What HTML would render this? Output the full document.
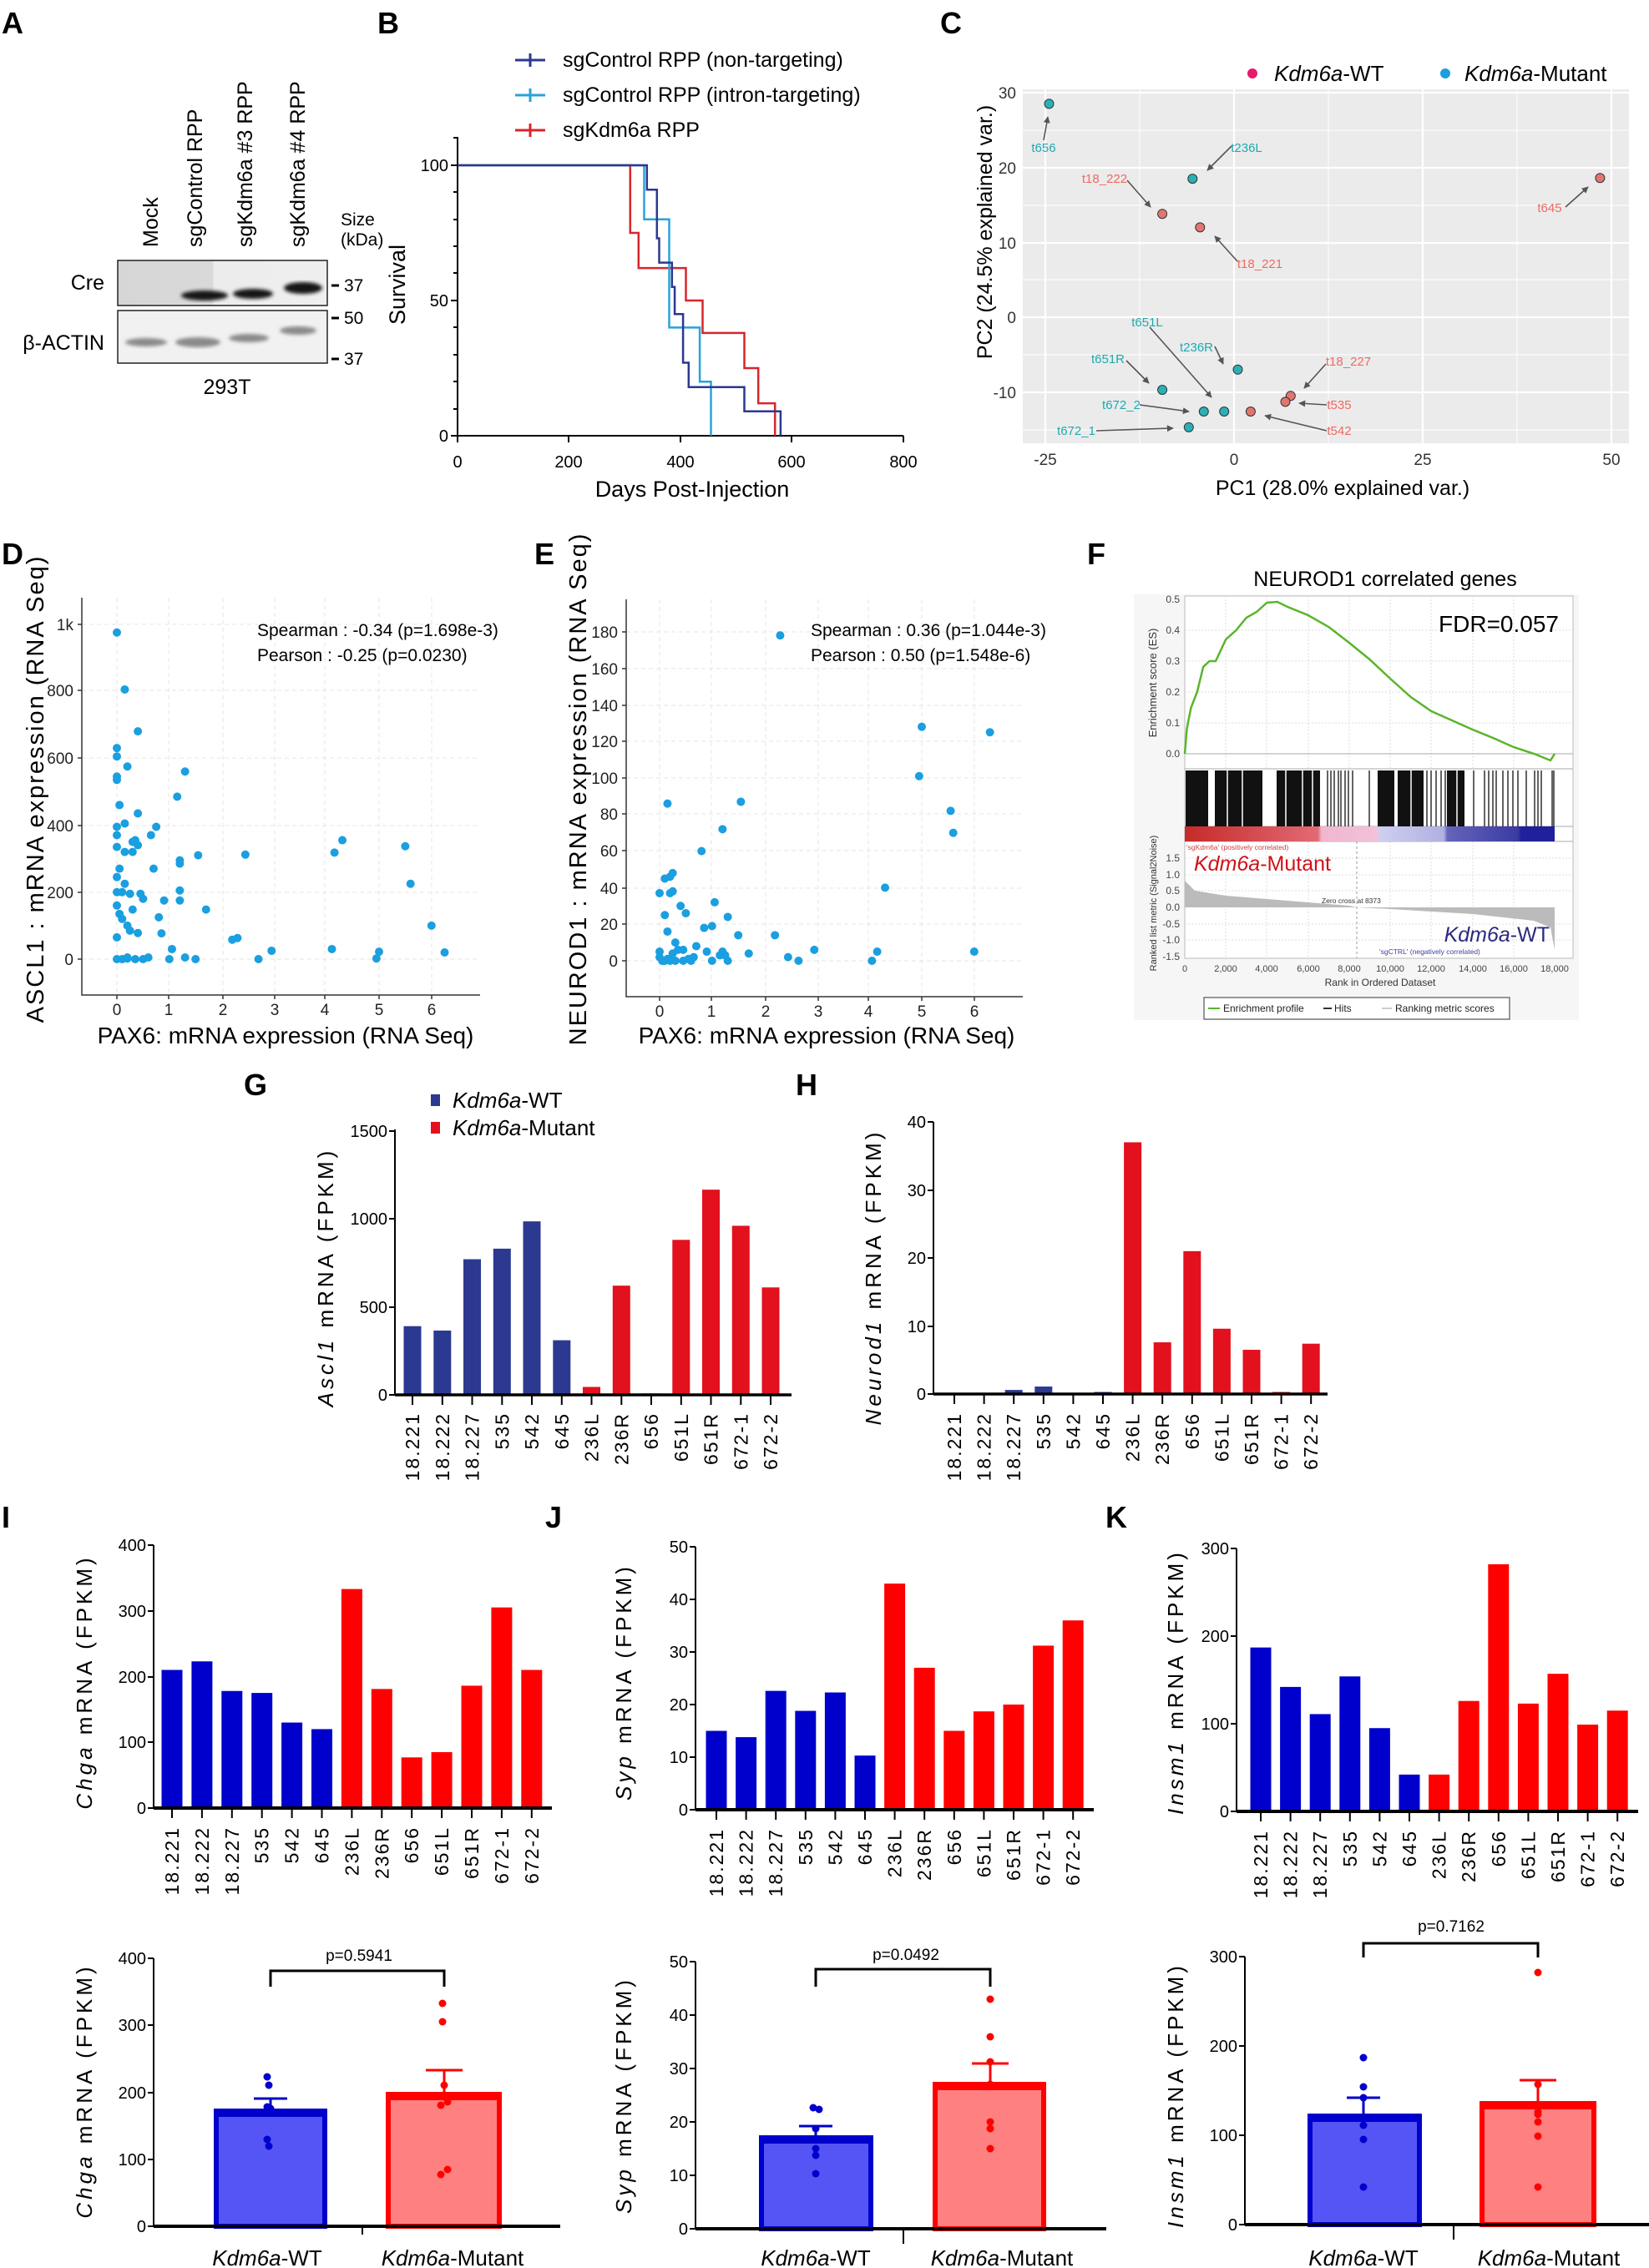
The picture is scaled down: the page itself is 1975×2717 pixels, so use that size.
<!DOCTYPE html>
<html><head><meta charset="utf-8"><style>
html,body{margin:0;padding:0;background:#fff}
svg{display:block}
.n{font-family:"Liberation Sans Narrow","Liberation Sans",sans-serif}
.s{font-family:"Liberation Sans",sans-serif}
.b{font-family:"Liberation Sans",sans-serif;font-weight:bold}
</style></head><body>
<svg width="1975" height="2717" viewBox="0 0 1975 2717" xmlns="http://www.w3.org/2000/svg">
<!-- Panel letters -->
<g class="b" font-size="36" fill="#000">
<text x="2" y="40">A</text><text x="452" y="40">B</text><text x="1126" y="40">C</text>
<text x="2" y="676">D</text><text x="640" y="676">E</text><text x="1302" y="676">F</text>
<text x="292" y="1312">G</text><text x="953" y="1312">H</text>
<text x="2" y="1830">I</text><text x="653" y="1830">J</text><text x="1324" y="1830">K</text>
</g>

<!-- PANEL A -->
<g class="s" font-size="25">
<text transform="translate(189,296) rotate(-90)">Mock</text>
<text transform="translate(242,296) rotate(-90)">sgControl RPP</text>
<text transform="translate(302,296) rotate(-90)">sgKdm6a #3 RPP</text>
<text transform="translate(365,296) rotate(-90)">sgKdm6a #4 RPP</text>
</g>
<g class="n" font-size="21"><text x="408" y="270">Size</text><text x="408" y="294">(kDa)</text></g>
<defs>
<linearGradient id="creg" x1="0" x2="1"><stop offset="0" stop-color="#d6d6d6"/><stop offset="0.45" stop-color="#d9d9d9"/><stop offset="0.46" stop-color="#ececec"/><stop offset="1" stop-color="#efefef"/></linearGradient>
<filter id="bl"><feGaussianBlur stdDeviation="2"/></filter>
</defs>
<rect x="141" y="312" width="251" height="54" fill="url(#creg)" stroke="#222" stroke-width="1.5"/>
<g filter="url(#bl)" fill="#151515">
<ellipse cx="245" cy="354" rx="28" ry="6"/><ellipse cx="303" cy="352" rx="24" ry="6"/><ellipse cx="363" cy="345" rx="23" ry="7"/>
</g>
<rect x="141" y="372" width="251" height="63" fill="#f1f1f1" stroke="#222" stroke-width="1.5"/>
<g filter="url(#bl)" fill="#8a8a8a">
<ellipse cx="175" cy="410" rx="25" ry="5"/><ellipse cx="237" cy="410" rx="27" ry="6"/><ellipse cx="298" cy="405" rx="24" ry="5"/><ellipse cx="357" cy="396" rx="22" ry="5"/>
</g>
<g stroke="#000" stroke-width="3"><line x1="397" y1="342" x2="406" y2="342"/><line x1="397" y1="381" x2="406" y2="381"/><line x1="397" y1="430" x2="406" y2="430"/></g>
<g class="n" font-size="21"><text x="412" y="349">37</text><text x="412" y="388">50</text><text x="412" y="437">37</text></g>
<g class="n" font-size="25" text-anchor="end"><text x="125" y="347">Cre</text><text x="125" y="419">β-ACTIN</text></g>
<text class="n" x="272" y="472" font-size="25" text-anchor="middle">293T</text>

<!-- PANEL B -->
<g stroke-width="3">
<line x1="617" y1="72" x2="653" y2="72" stroke="#2b3990"/><line x1="635" y1="64" x2="635" y2="80" stroke="#2b3990"/>
<line x1="617" y1="114" x2="653" y2="114" stroke="#29a3d8"/><line x1="635" y1="106" x2="635" y2="122" stroke="#29a3d8"/>
<line x1="617" y1="156" x2="653" y2="156" stroke="#d7262b"/><line x1="635" y1="148" x2="635" y2="164" stroke="#d7262b"/>
</g>
<g class="n" font-size="25"><text x="674" y="80">sgControl RPP (non-targeting)</text><text x="674" y="122">sgControl RPP (intron-targeting)</text><text x="674" y="164">sgKdm6a RPP</text></g>
<g stroke="#000" stroke-width="2" fill="none">
<line x1="548" y1="164" x2="548" y2="523"/><line x1="547" y1="522" x2="1082" y2="522"/>
<path d="M540 198h8M540 360h8M540 522h8M543 165h5M543 230h5M543 263h5M543 295h5M543 327h5M543 392h5M543 425h5M543 457h5M543 490h5"/>
<path d="M548 522v8M681 522v8M815 522v8M948 522v8M1082 522v8"/>
</g>
<g class="n" font-size="20" text-anchor="end"><text x="537" y="205">100</text><text x="537" y="367">50</text><text x="537" y="529">0</text></g>
<g class="n" font-size="20" text-anchor="middle"><text x="548" y="560">0</text><text x="681" y="560">200</text><text x="815" y="560">400</text><text x="948" y="560">600</text><text x="1082" y="560">800</text></g>
<text class="n" x="829" y="595" font-size="27" text-anchor="middle">Days Post-Injection</text>
<text class="s" transform="translate(485,341) rotate(-90)" font-size="27" text-anchor="middle">Survival</text>
<g fill="none" stroke-width="2.5">
<polyline stroke="#d7262b" points="548,198 754.8,198 754.8,279 764.8,279 764.8,321.1 821.5,321.1 821.5,360 841.5,360 841.5,398.9 891.5,398.9 891.5,441 908.2,441 908.2,483.1 928.2,483.1 928.2,522"/>
<polyline stroke="#29a3d8" points="548,198 771.5,198 771.5,262.8 801.5,262.8 801.5,392.4 838.1,392.4 838.1,457.2 851.5,457.2 851.5,522"/>
<polyline stroke="#2b3990" points="548,198 774.8,198 774.8,227.2 786.8,227.2 786.8,285.5 789.5,285.5 789.5,314.6 804.8,314.6 804.8,343.8 808.1,343.8 808.1,376.2 818.1,376.2 818.1,434.5 824.8,434.5 824.8,463.7 891.5,463.7 891.5,492.8 934.9,492.8 934.9,522"/>
</g>

<!-- PANEL C -->
<circle cx="1500" cy="88" r="6" fill="#e8186a"/><circle cx="1731" cy="88" r="6" fill="#1a9fe0"/>
<g class="n" font-size="26"><text x="1526" y="97"><tspan font-style="italic">Kdm6a</tspan>-WT</text><text x="1754" y="97"><tspan font-style="italic">Kdm6a</tspan>-Mutant</text></g>
<rect x="1225" y="107" width="726" height="424" fill="#ebebeb"/>
<g stroke="#fff" stroke-width="1"><path d="M1225 156h726M1225 246h726M1225 335h726M1225 425h726M1225 515h726M1365 107v424M1591 107v424M1817 107v424"/></g>
<g stroke="#fff" stroke-width="2.2"><path d="M1225 111h726M1225 201h726M1225 291h726M1225 380h726M1225 470h726M1252 107v424M1478 107v424M1704 107v424M1930 107v424"/></g>
<g class="n" font-size="19" fill="#333" text-anchor="end"><text x="1217" y="118">30</text><text x="1217" y="208">20</text><text x="1217" y="298">10</text><text x="1217" y="387">0</text><text x="1217" y="477">-10</text></g>
<g class="n" font-size="19" fill="#333" text-anchor="middle"><text x="1252" y="557">-25</text><text x="1478" y="557">0</text><text x="1704" y="557">25</text><text x="1930" y="557">50</text></g>
<text class="s" x="1608" y="593" font-size="25" text-anchor="middle">PC1 (28.0% explained var.)</text>
<text class="s" transform="translate(1188,278) rotate(-90)" font-size="25" text-anchor="middle">PC2 (24.5% explained var.)</text>
<defs><marker id="ar" viewBox="0 0 10 10" refX="9" refY="5" markerWidth="5" markerHeight="5" orient="auto"><path d="M0 0L10 5L0 10z" fill="#555"/></marker></defs>
<g stroke="#555" stroke-width="1.6" marker-end="url(#ar)">
<line x1="1250" y1="168" x2="1255" y2="140"/><line x1="1475" y1="175" x2="1446" y2="204"/>
<line x1="1350" y1="216" x2="1378" y2="248"/><line x1="1482" y1="313" x2="1455" y2="283"/>
<line x1="1875" y1="248" x2="1902" y2="224"/><line x1="1377" y1="392" x2="1451" y2="476"/>
<line x1="1455" y1="415" x2="1465" y2="436"/><line x1="1349" y1="432" x2="1376" y2="459"/>
<line x1="1588" y1="436" x2="1562" y2="465"/><line x1="1589" y1="485" x2="1556" y2="483"/>
<line x1="1365" y1="485" x2="1424" y2="493"/><line x1="1313" y1="516" x2="1405" y2="513"/>
<line x1="1589" y1="516" x2="1515" y2="498"/>
</g>
<g stroke="#333" stroke-width="1">
<g fill="#2ab1b5"><circle cx="1256.5" cy="124.4" r="5.5"/><circle cx="1428.3" cy="214.1" r="5.5"/><circle cx="1482.5" cy="442.8" r="5.5"/><circle cx="1392.1" cy="467" r="5.5"/><circle cx="1466.2" cy="493" r="5.5"/><circle cx="1441.8" cy="493" r="5.5"/><circle cx="1423.8" cy="511.9" r="5.5"/></g>
<g fill="#e0766f"><circle cx="1392.1" cy="256.2" r="5.5"/><circle cx="1437.3" cy="272.4" r="5.5"/><circle cx="1916.4" cy="213.2" r="5.5"/><circle cx="1545.8" cy="474.2" r="5.5"/><circle cx="1539.5" cy="481.4" r="5.5"/><circle cx="1497.9" cy="493" r="5.5"/></g>
</g>
<g class="n" font-size="15" text-anchor="middle">
<g fill="#20aab0"><text x="1250" y="182">t656</text><text x="1493" y="182">t236L</text><text x="1374" y="391">t651L</text><text x="1433" y="421">t236R</text><text x="1327" y="435">t651R</text><text x="1343" y="490">t672_2</text><text x="1289" y="521">t672_1</text></g>
<g fill="#ee6a62"><text x="1323" y="219">t18_222</text><text x="1509" y="321">t18_221</text><text x="1856" y="254">t645</text><text x="1615" y="438">t18_227</text><text x="1604" y="490">t535</text><text x="1604" y="521">t542</text></g>
</g>

<!-- PANEL D -->
<g stroke="#e4e4e4" stroke-width="1" stroke-dasharray="5,4" fill="none">
<path d="M98 748h477M98 827h477M98 908h477M98 989h477M98 1069h477M98 1149h477M140 716v476M202 716v476M267 716v476M329 716v476M389 716v476M454 716v476M517 716v476"/>
</g>
<g stroke="#333" stroke-width="1.5" fill="none"><path d="M98 716V1192H575"/><path d="M93 748h5M93 827h5M93 908h5M93 989h5M93 1069h5M93 1149h5M140 1192v5M202 1192v5M267 1192v5M329 1192v5M389 1192v5M454 1192v5M517 1192v5"/></g>
<g class="n" font-size="19" fill="#222" text-anchor="end"><text x="88" y="755">1k</text><text x="88" y="834">800</text><text x="88" y="915">600</text><text x="88" y="996">400</text><text x="88" y="1076">200</text><text x="88" y="1156">0</text></g>
<g class="n" font-size="19" fill="#222" text-anchor="middle"><text x="140" y="1216">0</text><text x="202" y="1216">1</text><text x="267" y="1216">2</text><text x="329" y="1216">3</text><text x="389" y="1216">4</text><text x="454" y="1216">5</text><text x="517" y="1216">6</text></g>
<text class="n" x="342" y="1250" font-size="28" text-anchor="middle">PAX6: mRNA expression (RNA Seq)</text>
<text class="s" transform="translate(52,945) rotate(-90)" font-size="29" letter-spacing="2" text-anchor="middle">ASCL1 : mRNA expression (RNA Seq)</text>
<g class="n" font-size="21"><text x="308" y="762">Spearman : -0.34 (p=1.698e-3)</text><text x="308" y="792">Pearson : -0.25 (p=0.0230)</text></g>
<path transform="translate(140,1149) scale(62.8,-0.4013)" vector-effect="non-scaling-stroke" stroke="#1a9fe0" stroke-width="10" stroke-linecap="round" fill="none"
d="M0 975h0M0.15 805h0M0.4 680h0M0 630h0M0 605h0M0.2 575h0M0 545h0M0 535h0M1.3 560h0M0.05 460h0M1.15 485h0M0.4 435h0M0.15 405h0M0 395h0M0.75 395h0M0 370h0M0.65 370h0M0.3 350h0M0.35 355h0M0.4 340h0M0 335h0M0.15 320h0M0.3 320h0M4.3 355h0M4.15 318h0M5.5 337h0M2.45 312h0M1.55 310h0M1.2 295h0M1.2 285h0M0.7 270h0M0.05 270h0M0 245h0M0.15 225h0M0 200h0M0.1 200h0M0.25 195h0M0.45 195h0M1.2 205h0M0.5 180h0M0.9 175h0M1.2 175h0M0 160h0M0.3 148h0M1.7 148h0M0.05 135h0M0.1 120h0M0.2 100h0M0.8 125h0M0.25 85h0M0.4 78h0M0.85 77h0M5.6 225h0M6 100h0M0 65h0M2.2 58h0M2.3 63h0M1.05 30h0M2.95 25h0M4.1 30h0M5 22h0M6.25 20h0M1.3 5h0M0 0h0M0.1 0h0M0.2 5h0M0.35 0h0M0.5 0h0M0.6 5h0M1 0h0M1.5 0h0M2.7 0h0M4.95 2h0M0.2 2h0"/>

<!-- PANEL E -->
<g stroke="#e4e4e4" stroke-width="1" stroke-dasharray="5,4" fill="none">
<path d="M750 757h475M750 801h475M750 845h475M750 888h475M750 932h475M750 975h475M750 1019h475M750 1064h475M750 1107h475M750 1151h475M790 718v476M852 718v476M917 718v476M980 718v476M1040 718v476M1104 718v476M1167 718v476"/>
</g>
<g stroke="#333" stroke-width="1.5" fill="none"><path d="M750 718V1194H1225"/><path d="M745 757h5M745 801h5M745 845h5M745 888h5M745 932h5M745 975h5M745 1019h5M745 1064h5M745 1107h5M745 1151h5M790 1194v5M852 1194v5M917 1194v5M980 1194v5M1040 1194v5M1104 1194v5M1167 1194v5"/></g>
<g class="n" font-size="19" fill="#222" text-anchor="end"><text x="740" y="764">180</text><text x="740" y="808">160</text><text x="740" y="852">140</text><text x="740" y="895">120</text><text x="740" y="939">100</text><text x="740" y="982">80</text><text x="740" y="1026">60</text><text x="740" y="1071">40</text><text x="740" y="1114">20</text><text x="740" y="1158">0</text></g>
<g class="n" font-size="19" fill="#222" text-anchor="middle"><text x="790" y="1218">0</text><text x="852" y="1218">1</text><text x="917" y="1218">2</text><text x="980" y="1218">3</text><text x="1040" y="1218">4</text><text x="1104" y="1218">5</text><text x="1167" y="1218">6</text></g>
<text class="n" x="990" y="1250" font-size="28" text-anchor="middle">PAX6: mRNA expression (RNA Seq)</text>
<text class="s" transform="translate(702,945) rotate(-90)" font-size="29" letter-spacing="2" text-anchor="middle">NEUROD1 : mRNA expression (RNA Seq)</text>
<g class="n" font-size="21"><text x="971" y="762">Spearman : 0.36 (p=1.044e-3)</text><text x="971" y="792">Pearson : 0.50 (p=1.548e-6)</text></g>
<path transform="translate(790,1151) scale(62.8,-2.19)" vector-effect="non-scaling-stroke" stroke="#1a9fe0" stroke-width="10" stroke-linecap="round" fill="none"
d="M2.3 178h0M5 128h0M6.3 125h0M4.95 101h0M5.55 82h0M5.6 70h0M0.15 86h0M1.55 87h0M1.2 72h0M0.8 60h0M0.25 48h0M0.1 45h0M0.2 46h0M0 37h0M0.2 37h0M0.25 38h0M4.3 40h0M1.05 32h0M0.4 30h0M0.5 26h0M0.1 25h0M1.3 24h0M0.15 16h0M1 19h0M0.85 18h0M1.5 14h0M2.2 14h0M0.3 10h0M0.7 8h0M0 5h0M0.35 6h0M0.45 6h0M0.25 4h0M0.9 5h0M1.2 5h0M1.25 3h0M0 2h0M0.1 0h0M0.2 0h0M0.3 0h0M0.45 0h0M0.55 1h0M0.6 0h0M0.65 2h0M1 0h0M1.3 0h0M1.7 4h0M2.45 2h0M2.65 0h0M2.95 6h0M4.05 0h0M4.15 5h0M6 5h0M0.05 0h0M0.15 1h0M1.15 3h0"/>

<!-- PANEL F -->
<text class="s" x="1659" y="702" font-size="25" text-anchor="middle">NEUROD1 correlated genes</text>
<rect x="1358" y="712" width="533" height="510" fill="#f6f6f6"/>
<rect x="1419" y="714" width="465" height="434" fill="#fff" stroke="#bbb" stroke-width="1"/>
<g stroke="#ddd" stroke-width="1" stroke-dasharray="2,2" fill="none"><path d="M1419 755h465M1419 792h465M1419 829h465M1419 866h465M1468 714v207M1517 714v207M1567 714v207M1616 714v207M1665 714v207M1714 714v207M1764 714v207M1813 714v207"/>
<path d="M1419 1028h465M1419 1048h465M1419 1067h465M1419 1107h465M1419 1126h465M1468 1008v140M1517 1008v140M1567 1008v140M1665 1008v140M1714 1008v140M1764 1008v140M1813 1008v140"/></g>
<path d="M1419 903h465M1419 921h465M1419 990h465M1419 1008h465" stroke="#aaa" stroke-width="1" fill="none"/>
<polyline fill="none" stroke="#5ab52a" stroke-width="2.5" points="1419,903 1421.5,873 1426.4,848 1433.8,829 1441.1,799 1448.5,792 1456,792 1468.2,766 1480.5,755 1492.8,740 1505.1,733 1517.4,722 1529.9,721 1542.1,727 1566.7,737 1591.3,751 1615.9,770 1640.5,790 1665.1,813 1689.7,835 1714.3,852 1739,863 1763.6,874 1788.2,884 1812.8,895 1837.4,903 1857,911 1862,903"/>
<g fill="#111"><rect x="1420" y="923" width="27" height="67"/><rect x="1455" y="923" width="57" height="67"/><rect x="1529" y="923" width="52" height="67"/><rect x="1650" y="923" width="20" height="67"/><rect x="1674" y="923" width="31" height="67"/><rect x="1733" y="923" width="21" height="67"/></g>
<path stroke="#fff" stroke-width="1.5" d="M1470 923v67M1488 923v67M1540 923v67M1560 923v67M1572 923v67M1690 923v67M1745 923v67"/>
<path stroke="#111" stroke-width="1.3" d="M1590 923v67M1594 923v67M1598 923v67M1603 923v67M1606 923v67M1611 923v67M1615 923v67M1620 923v67M1640 923v67M1709 923v67M1714 923v67M1720 923v67M1726 923v67M1731 923v67M1765 923v67M1778 923v67M1783 923v67M1788 923v67M1792 923v67M1800 923v67M1806 923v67M1812 923v67M1818 923v67M1828 923v67M1838 923v67M1842 923v67M1846 923v67M1859 923v67M1861 923v67"/>
<defs><linearGradient id="cb" x1="0" x2="1"><stop offset="0" stop-color="#c62a2a"/><stop offset="0.36" stop-color="#e26a74"/><stop offset="0.37" stop-color="#f0b6d0"/><stop offset="0.52" stop-color="#f1c2da"/><stop offset="0.525" stop-color="#cfcff0"/><stop offset="0.7" stop-color="#b0b0e2"/><stop offset="0.71" stop-color="#6464bc"/><stop offset="0.9" stop-color="#3b3ba2"/><stop offset="0.91" stop-color="#20209a"/><stop offset="1" stop-color="#20209a"/></linearGradient></defs>
<rect x="1419" y="990" width="443" height="18" fill="url(#cb)"/>
<path fill="#bbb" d="M1419 1087L1419 1055L1431 1067L1468 1073L1542 1079L1616 1085L1625 1087L1665 1089L1764 1095L1837 1103L1857 1111L1862 1138L1862 1087Z"/>
<line x1="1625" y1="1008" x2="1625" y2="1148" stroke="#999" stroke-dasharray="3,3"/>
<g class="s" font-size="12" fill="#444" text-anchor="end"><text x="1413" y="722">0.5</text><text x="1413" y="759">0.4</text><text x="1413" y="796">0.3</text><text x="1413" y="833">0.2</text><text x="1413" y="870">0.1</text><text x="1413" y="907">0.0</text>
<text x="1413" y="1032">1.5</text><text x="1413" y="1052">1.0</text><text x="1413" y="1071">0.5</text><text x="1413" y="1091">0.0</text><text x="1413" y="1111">-0.5</text><text x="1413" y="1130">-1.0</text><text x="1413" y="1150">-1.5</text></g>
<g class="s" font-size="11" fill="#444" text-anchor="middle"><text x="1419" y="1164">0</text><text x="1468" y="1164">2,000</text><text x="1517" y="1164">4,000</text><text x="1567" y="1164">6,000</text><text x="1616" y="1164">8,000</text><text x="1665" y="1164">10,000</text><text x="1714" y="1164">12,000</text><text x="1764" y="1164">14,000</text><text x="1813" y="1164">16,000</text><text x="1862" y="1164">18,000</text></g>
<text class="s" x="1653" y="1181" font-size="12" fill="#333" text-anchor="middle">Rank in Ordered Dataset</text>
<text class="s" transform="translate(1385,818) rotate(-90)" font-size="13" fill="#333" text-anchor="middle">Enrichment score (ES)</text>
<text class="s" transform="translate(1385,1082) rotate(-90)" font-size="11" fill="#333" text-anchor="middle">Ranked list metric (Signal2Noise)</text>
<text class="s" x="1867" y="757" font-size="28" text-anchor="end">FDR=0.057</text>
<text class="s" x="1421" y="1018" font-size="8.5" fill="#d04040">'sgKdm6a' (positively correlated)</text>
<text class="s" x="1583" y="1082" font-size="8.5" fill="#333">Zero cross at 8373</text>
<text class="s" x="1652" y="1143" font-size="8.5" fill="#4040a0">'sgCTRL' (negatively correlated)</text>
<text class="s" x="1430" y="1043" font-size="25" fill="#d0121a"><tspan font-style="italic">Kdm6a</tspan>-Mutant</text>
<text class="s" x="1856" y="1128" font-size="25" fill="#2a2a80" text-anchor="end"><tspan font-style="italic">Kdm6a</tspan>-WT</text>
<rect x="1442" y="1195" width="366" height="26" fill="#fff" stroke="#333"/>
<path d="M1447 1208h14" stroke-width="2" stroke="#5ab52a"/>
<path d="M1585 1208h10" stroke="#333" stroke-width="2"/><path d="M1655 1208h12" stroke="#ccc" stroke-width="2"/>
<g class="s" font-size="12" fill="#222"><text x="1465" y="1212">Enrichment profile</text><text x="1598" y="1212">Hits</text><text x="1671" y="1212">Ranking metric scores</text></g>

<!-- PANEL G -->
<rect x="516" y="1311" width="11" height="14" fill="#2b3990"/><rect x="516" y="1344" width="11" height="14" fill="#e3101e"/>
<g class="n" font-size="26"><text x="542" y="1327"><tspan font-style="italic">Kdm6a</tspan>-WT</text><text x="542" y="1360"><tspan font-style="italic">Kdm6a</tspan>-Mutant</text></g>
<g transform="translate(0,1671) scale(1,-0.211)">
<g fill="#2b3990"><rect x="483.5" y="0" width="21" height="390"/><rect x="519.3" y="0" width="21" height="365"/><rect x="555" y="0" width="21" height="770"/><rect x="590.8" y="0" width="21" height="830"/><rect x="626.5" y="0" width="21" height="985"/><rect x="662.3" y="0" width="21" height="310"/></g>
<g fill="#e3101e"><rect x="698" y="0" width="21" height="45"/><rect x="733.8" y="0" width="21" height="620"/><rect x="769.5" y="0" width="21" height="8"/><rect x="805.3" y="0" width="21" height="880"/><rect x="841" y="0" width="21" height="1165"/><rect x="876.8" y="0" width="21" height="960"/><rect x="912.5" y="0" width="21" height="610"/></g>
</g>
<g stroke="#000" stroke-width="2" fill="none"><path d="M473 1353V1671M466 1355h7M466 1460h7M466 1566h7M466 1671h7"/><path d="M473 1671H948" stroke-width="3.5"/>
<path d="M494 1672v11M529.8 1672v11M565.5 1672v11M601.3 1672v11M637 1672v11M672.8 1672v11M708.5 1672v11M744.3 1672v11M780 1672v11M815.8 1672v11M851.5 1672v11M887.3 1672v11M923 1672v11"/></g>
<g class="n" font-size="20" text-anchor="end"><text x="464" y="1362">1500</text><text x="464" y="1467">1000</text><text x="464" y="1573">500</text><text x="464" y="1678">0</text></g>
<text class="s" transform="translate(399,1530) rotate(-90)" font-size="26" letter-spacing="4" text-anchor="middle"><tspan font-style="italic">Ascl1</tspan> mRNA (FPKM)</text>
<g class="s" font-size="23" letter-spacing="2" text-anchor="end">
<text transform="translate(502,1692) rotate(-90)">18.221</text><text transform="translate(537.8,1692) rotate(-90)">18.222</text><text transform="translate(573.5,1692) rotate(-90)">18.227</text><text transform="translate(609.3,1692) rotate(-90)">535</text><text transform="translate(645,1692) rotate(-90)">542</text><text transform="translate(680.8,1692) rotate(-90)">645</text><text transform="translate(716.5,1692) rotate(-90)">236L</text><text transform="translate(752.3,1692) rotate(-90)">236R</text><text transform="translate(788,1692) rotate(-90)">656</text><text transform="translate(823.8,1692) rotate(-90)">651L</text><text transform="translate(859.5,1692) rotate(-90)">651R</text><text transform="translate(895.3,1692) rotate(-90)">672-1</text><text transform="translate(931,1692) rotate(-90)">672-2</text></g>

<!-- PANEL H -->
<g transform="translate(0,1670) scale(1,-8.15)">
<g fill="#2b3990"><rect x="1132.5" y="0" width="21" height="0.05"/><rect x="1168.1" y="0" width="21" height="0.1"/><rect x="1203.7" y="0" width="21" height="0.6"/><rect x="1239.3" y="0" width="21" height="1.1"/><rect x="1310.5" y="0" width="21" height="0.3"/></g>
<g fill="#e3101e"><rect x="1346.1" y="0" width="21" height="37"/><rect x="1381.7" y="0" width="21" height="7.6"/><rect x="1417.3" y="0" width="21" height="21"/><rect x="1452.9" y="0" width="21" height="9.6"/><rect x="1488.5" y="0" width="21" height="6.5"/><rect x="1524.1" y="0" width="21" height="0.3"/><rect x="1559.7" y="0" width="21" height="7.4"/></g>
</g>
<g stroke="#000" stroke-width="2" fill="none"><path d="M1118 1344V1670M1111 1344h7M1111 1426h7M1111 1507h7M1111 1589h7M1111 1670h7"/><path d="M1118 1670H1590" stroke-width="3.5"/>
<path d="M1143 1671v11M1178.6 1671v11M1214.2 1671v11M1249.8 1671v11M1285.4 1671v11M1321 1671v11M1356.6 1671v11M1392.2 1671v11M1427.8 1671v11M1463.4 1671v11M1499 1671v11M1534.6 1671v11M1570.2 1671v11"/></g>
<g class="n" font-size="20" text-anchor="end"><text x="1109" y="1351">40</text><text x="1109" y="1433">30</text><text x="1109" y="1514">20</text><text x="1109" y="1596">10</text><text x="1109" y="1677">0</text></g>
<text class="s" transform="translate(1055,1530) rotate(-90)" font-size="26" letter-spacing="4" text-anchor="middle"><tspan font-style="italic">Neurod1</tspan> mRNA (FPKM)</text>
<g class="s" font-size="23" letter-spacing="2" text-anchor="end">
<text transform="translate(1151,1692) rotate(-90)">18.221</text><text transform="translate(1186.6,1692) rotate(-90)">18.222</text><text transform="translate(1222.2,1692) rotate(-90)">18.227</text><text transform="translate(1257.8,1692) rotate(-90)">535</text><text transform="translate(1293.4,1692) rotate(-90)">542</text><text transform="translate(1329,1692) rotate(-90)">645</text><text transform="translate(1364.6,1692) rotate(-90)">236L</text><text transform="translate(1400.2,1692) rotate(-90)">236R</text><text transform="translate(1435.8,1692) rotate(-90)">656</text><text transform="translate(1471.4,1692) rotate(-90)">651L</text><text transform="translate(1507,1692) rotate(-90)">651R</text><text transform="translate(1542.6,1692) rotate(-90)">672-1</text><text transform="translate(1578.2,1692) rotate(-90)">672-2</text></g>

<!-- PANEL I top -->
<g transform="translate(0,2166) scale(1,-0.788)">
<g fill="#0000cc"><rect x="193.5" y="0" width="25" height="210"/><rect x="229.4" y="0" width="25" height="223"/><rect x="265.3" y="0" width="25" height="178"/><rect x="301.2" y="0" width="25" height="175"/><rect x="337.1" y="0" width="25" height="130"/><rect x="373" y="0" width="25" height="120"/></g>
<g fill="#ff0000"><rect x="408.9" y="0" width="25" height="333"/><rect x="444.8" y="0" width="25" height="181"/><rect x="480.7" y="0" width="25" height="77"/><rect x="516.6" y="0" width="25" height="85"/><rect x="552.5" y="0" width="25" height="186"/><rect x="588.4" y="0" width="25" height="305"/><rect x="624.3" y="0" width="25" height="210"/></g>
</g>
<g stroke="#000" stroke-width="2" fill="none"><path d="M184 1851V2166M177 1851h7M177 1930h7M177 2009h7M177 2087h7M177 2166h7"/><path d="M184 2166H661" stroke-width="4"/>
<path d="M206 2167v11M241.9 2167v11M277.8 2167v11M313.7 2167v11M349.6 2167v11M385.5 2167v11M421.4 2167v11M457.3 2167v11M493.2 2167v11M529.1 2167v11M565 2167v11M600.9 2167v11M636.8 2167v11"/></g>
<g class="n" font-size="20" text-anchor="end"><text x="175" y="1858">400</text><text x="175" y="1937">300</text><text x="175" y="2016">200</text><text x="175" y="2094">100</text><text x="175" y="2173">0</text></g>
<text class="s" transform="translate(110,2015) rotate(-90)" font-size="26" letter-spacing="4" text-anchor="middle"><tspan font-style="italic">Chga</tspan> mRNA (FPKM)</text>
<g class="s" font-size="23" letter-spacing="2" text-anchor="end">
<text transform="translate(214,2188) rotate(-90)">18.221</text><text transform="translate(249.9,2188) rotate(-90)">18.222</text><text transform="translate(285.8,2188) rotate(-90)">18.227</text><text transform="translate(321.7,2188) rotate(-90)">535</text><text transform="translate(357.6,2188) rotate(-90)">542</text><text transform="translate(393.5,2188) rotate(-90)">645</text><text transform="translate(429.4,2188) rotate(-90)">236L</text><text transform="translate(465.3,2188) rotate(-90)">236R</text><text transform="translate(501.2,2188) rotate(-90)">656</text><text transform="translate(537.1,2188) rotate(-90)">651L</text><text transform="translate(573,2188) rotate(-90)">651R</text><text transform="translate(608.9,2188) rotate(-90)">672-1</text><text transform="translate(644.8,2188) rotate(-90)">672-2</text></g>

<!-- PANEL J top -->
<g transform="translate(0,2168) scale(1,-6.3)">
<g fill="#0000cc"><rect x="845.5" y="0" width="25" height="15"/><rect x="881.1" y="0" width="25" height="13.8"/><rect x="916.7" y="0" width="25" height="22.6"/><rect x="952.3" y="0" width="25" height="18.8"/><rect x="987.9" y="0" width="25" height="22.3"/><rect x="1023.5" y="0" width="25" height="10.3"/></g>
<g fill="#ff0000"><rect x="1059.1" y="0" width="25" height="43"/><rect x="1094.7" y="0" width="25" height="27"/><rect x="1130.3" y="0" width="25" height="15"/><rect x="1165.9" y="0" width="25" height="18.7"/><rect x="1201.5" y="0" width="25" height="20"/><rect x="1237.1" y="0" width="25" height="31.2"/><rect x="1272.7" y="0" width="25" height="36"/></g>
</g>
<g stroke="#000" stroke-width="2" fill="none"><path d="M833 1853V2168M826 1853h7M826 1916h7M826 1979h7M826 2042h7M826 2105h7M826 2168h7"/><path d="M833 2168H1310" stroke-width="4"/>
<path d="M858 2169v11M893.6 2169v11M929.2 2169v11M964.8 2169v11M1000.4 2169v11M1036 2169v11M1071.6 2169v11M1107.2 2169v11M1142.8 2169v11M1178.4 2169v11M1214 2169v11M1249.6 2169v11M1285.2 2169v11"/></g>
<g class="n" font-size="20" text-anchor="end"><text x="824" y="1860">50</text><text x="824" y="1923">40</text><text x="824" y="1986">30</text><text x="824" y="2049">20</text><text x="824" y="2112">10</text><text x="824" y="2175">0</text></g>
<text class="s" transform="translate(756,2015) rotate(-90)" font-size="26" letter-spacing="4" text-anchor="middle"><tspan font-style="italic">Syp</tspan> mRNA (FPKM)</text>
<g class="s" font-size="23" letter-spacing="2" text-anchor="end">
<text transform="translate(866,2190) rotate(-90)">18.221</text><text transform="translate(901.6,2190) rotate(-90)">18.222</text><text transform="translate(937.2,2190) rotate(-90)">18.227</text><text transform="translate(972.8,2190) rotate(-90)">535</text><text transform="translate(1008.4,2190) rotate(-90)">542</text><text transform="translate(1044,2190) rotate(-90)">645</text><text transform="translate(1079.6,2190) rotate(-90)">236L</text><text transform="translate(1115.2,2190) rotate(-90)">236R</text><text transform="translate(1150.8,2190) rotate(-90)">656</text><text transform="translate(1186.4,2190) rotate(-90)">651L</text><text transform="translate(1222,2190) rotate(-90)">651R</text><text transform="translate(1257.6,2190) rotate(-90)">672-1</text><text transform="translate(1293.2,2190) rotate(-90)">672-2</text></g>

<!-- PANEL K top -->
<g transform="translate(0,2170) scale(1,-1.05)">
<g fill="#0000cc"><rect x="1497.5" y="0" width="25" height="187"/><rect x="1533.1" y="0" width="25" height="142"/><rect x="1568.7" y="0" width="25" height="111"/><rect x="1604.3" y="0" width="25" height="154"/><rect x="1639.9" y="0" width="25" height="95"/><rect x="1675.5" y="0" width="25" height="42"/></g>
<g fill="#ff0000"><rect x="1711.1" y="0" width="25" height="42"/><rect x="1746.7" y="0" width="25" height="126"/><rect x="1782.3" y="0" width="25" height="282"/><rect x="1817.9" y="0" width="25" height="123"/><rect x="1853.5" y="0" width="25" height="157"/><rect x="1889.1" y="0" width="25" height="99"/><rect x="1924.7" y="0" width="25" height="115"/></g>
</g>
<g stroke="#000" stroke-width="2" fill="none"><path d="M1481 1855V2170M1474 1855h7M1474 1960h7M1474 2065h7M1474 2170h7"/><path d="M1481 2170H1962" stroke-width="4"/>
<path d="M1510 2171v11M1545.6 2171v11M1581.2 2171v11M1616.8 2171v11M1652.4 2171v11M1688 2171v11M1723.6 2171v11M1759.2 2171v11M1794.8 2171v11M1830.4 2171v11M1866 2171v11M1901.6 2171v11M1937.2 2171v11"/></g>
<g class="n" font-size="20" text-anchor="end"><text x="1472" y="1862">300</text><text x="1472" y="1967">200</text><text x="1472" y="2072">100</text><text x="1472" y="2177">0</text></g>
<text class="s" transform="translate(1417,2015) rotate(-90)" font-size="26" letter-spacing="4" text-anchor="middle"><tspan font-style="italic">Insm1</tspan> mRNA (FPKM)</text>
<g class="s" font-size="23" letter-spacing="2" text-anchor="end">
<text transform="translate(1518,2192) rotate(-90)">18.221</text><text transform="translate(1553.6,2192) rotate(-90)">18.222</text><text transform="translate(1589.2,2192) rotate(-90)">18.227</text><text transform="translate(1624.8,2192) rotate(-90)">535</text><text transform="translate(1660.4,2192) rotate(-90)">542</text><text transform="translate(1696,2192) rotate(-90)">645</text><text transform="translate(1731.6,2192) rotate(-90)">236L</text><text transform="translate(1767.2,2192) rotate(-90)">236R</text><text transform="translate(1802.8,2192) rotate(-90)">656</text><text transform="translate(1838.4,2192) rotate(-90)">651L</text><text transform="translate(1874,2192) rotate(-90)">651R</text><text transform="translate(1909.6,2192) rotate(-90)">672-1</text><text transform="translate(1945.2,2192) rotate(-90)">672-2</text></g>

<!-- BOTTOM I -->
<rect x="259" y="2529" width="130" height="138" fill="#5555f5" stroke="#0000cc" stroke-width="6"/><rect x="256" y="2526" width="136" height="10" fill="#0000cc"/>
<rect x="465" y="2509" width="133" height="158" fill="#ff8080" stroke="#ff0000" stroke-width="6"/><rect x="462" y="2506" width="139" height="10" fill="#ff0000"/>
<path d="M324 2529V2514M304 2514h40" stroke="#0000cc" stroke-width="3" fill="none"/><path d="M532 2509V2480M510 2480h44" stroke="#ff0000" stroke-width="3" fill="none"/>
<g fill="#0000cc"><circle cx="320" cy="2488" r="4.5"/><circle cx="322" cy="2498" r="4.5"/><circle cx="320" cy="2524" r="4.5"/><circle cx="324" cy="2526" r="4.5"/><circle cx="320" cy="2563" r="4.5"/><circle cx="322" cy="2571" r="4.5"/></g>
<g fill="#ff0000"><circle cx="530" cy="2400" r="4.5"/><circle cx="530" cy="2422" r="4.5"/><circle cx="532" cy="2498" r="4.5"/><circle cx="536" cy="2518" r="4.5"/><circle cx="528" cy="2522" r="4.5"/><circle cx="536" cy="2599" r="4.5"/><circle cx="528" cy="2605" r="4.5"/></g>
<path d="M324 2380V2361H532V2380" stroke="#000" stroke-width="3" fill="none"/>
<text class="n" x="430" y="2349" font-size="19" text-anchor="middle">p=0.5941</text>
<g stroke="#000" stroke-width="2" fill="none"><path d="M184 2346V2667M177 2346h7M177 2426h7M177 2507h7M177 2587h7M177 2667h7M434 2667v10"/><path d="M184 2667H671" stroke-width="4"/></g>
<g class="n" font-size="20" text-anchor="end"><text x="175" y="2353">400</text><text x="175" y="2433">300</text><text x="175" y="2514">200</text><text x="175" y="2594">100</text><text x="175" y="2674">0</text></g>
<text class="s" transform="translate(110,2505) rotate(-90)" font-size="26" letter-spacing="4" text-anchor="middle"><tspan font-style="italic">Chga</tspan> mRNA (FPKM)</text>
<g class="n" font-size="26" text-anchor="middle"><text x="320" y="2714"><tspan font-style="italic">Kdm6a</tspan>-WT</text><text x="542" y="2714"><tspan font-style="italic">Kdm6a</tspan>-Mutant</text></g>

<!-- BOTTOM J -->
<rect x="912" y="2561" width="131" height="109" fill="#5555f5" stroke="#0000cc" stroke-width="6"/><rect x="909" y="2558" width="137" height="10" fill="#0000cc"/>
<rect x="1120" y="2497" width="130" height="173" fill="#ff8080" stroke="#ff0000" stroke-width="6"/><rect x="1117" y="2494" width="136" height="10" fill="#ff0000"/>
<path d="M977 2561V2547M957 2547h40" stroke="#0000cc" stroke-width="3" fill="none"/><path d="M1186 2497V2472M1164 2472h44" stroke="#ff0000" stroke-width="3" fill="none"/>
<g fill="#0000cc"><circle cx="974" cy="2525" r="4.5"/><circle cx="981" cy="2527" r="4.5"/><circle cx="977" cy="2550" r="4.5"/><circle cx="977" cy="2574" r="4.5"/><circle cx="977" cy="2582" r="4.5"/><circle cx="977" cy="2604" r="4.5"/></g>
<g fill="#ff0000"><circle cx="1186" cy="2395" r="4.5"/><circle cx="1186" cy="2440" r="4.5"/><circle cx="1186" cy="2470" r="4.5"/><circle cx="1186" cy="2497" r="4.5"/><circle cx="1186" cy="2542" r="4.5"/><circle cx="1186" cy="2550" r="4.5"/><circle cx="1186" cy="2574" r="4.5"/></g>
<path d="M977 2380V2359H1186V2380" stroke="#000" stroke-width="3" fill="none"/>
<text class="n" x="1085" y="2348" font-size="19" text-anchor="middle">p=0.0492</text>
<g stroke="#000" stroke-width="2" fill="none"><path d="M833 2350V2670M826 2350h7M826 2414h7M826 2478h7M826 2542h7M826 2606h7M826 2670h7M1082 2670v18"/><path d="M833 2670H1325" stroke-width="4"/></g>
<g class="n" font-size="20" text-anchor="end"><text x="824" y="2357">50</text><text x="824" y="2421">40</text><text x="824" y="2485">30</text><text x="824" y="2549">20</text><text x="824" y="2613">10</text><text x="824" y="2677">0</text></g>
<text class="s" transform="translate(756,2510) rotate(-90)" font-size="26" letter-spacing="4" text-anchor="middle"><tspan font-style="italic">Syp</tspan> mRNA (FPKM)</text>
<g class="n" font-size="26" text-anchor="middle"><text x="977" y="2714"><tspan font-style="italic">Kdm6a</tspan>-WT</text><text x="1200" y="2714"><tspan font-style="italic">Kdm6a</tspan>-Mutant</text></g>

<!-- BOTTOM K -->
<rect x="1569" y="2535" width="131" height="130" fill="#5555f5" stroke="#0000cc" stroke-width="6"/><rect x="1566" y="2532" width="137" height="10" fill="#0000cc"/>
<rect x="1775" y="2520" width="134" height="145" fill="#ff8080" stroke="#ff0000" stroke-width="6"/><rect x="1772" y="2517" width="140" height="10" fill="#ff0000"/>
<path d="M1633 2535V2513M1613 2513h40" stroke="#0000cc" stroke-width="3" fill="none"/><path d="M1842 2520V2492M1820 2492h44" stroke="#ff0000" stroke-width="3" fill="none"/>
<g fill="#0000cc"><circle cx="1633" cy="2465" r="4.5"/><circle cx="1633" cy="2500" r="4.5"/><circle cx="1633" cy="2513" r="4.5"/><circle cx="1633" cy="2546" r="4.5"/><circle cx="1633" cy="2563" r="4.5"/><circle cx="1633" cy="2620" r="4.5"/></g>
<g fill="#ff0000"><circle cx="1842" cy="2363" r="4.5"/><circle cx="1842" cy="2497" r="4.5"/><circle cx="1842" cy="2530" r="4.5"/><circle cx="1842" cy="2533" r="4.5"/><circle cx="1842" cy="2542" r="4.5"/><circle cx="1842" cy="2559" r="4.5"/><circle cx="1842" cy="2620" r="4.5"/></g>
<path d="M1633 2345V2328H1842V2345" stroke="#000" stroke-width="3" fill="none"/>
<text class="n" x="1738" y="2314" font-size="19" text-anchor="middle">p=0.7162</text>
<g stroke="#000" stroke-width="2" fill="none"><path d="M1491 2344V2665M1484 2344h7M1484 2451h7M1484 2558h7M1484 2665h7M1741 2665v18"/><path d="M1491 2665H1975" stroke-width="4"/></g>
<g class="n" font-size="20" text-anchor="end"><text x="1482" y="2351">300</text><text x="1482" y="2458">200</text><text x="1482" y="2565">100</text><text x="1482" y="2672">0</text></g>
<text class="s" transform="translate(1417,2510) rotate(-90)" font-size="26" letter-spacing="4" text-anchor="middle"><tspan font-style="italic">Insm1</tspan> mRNA (FPKM)</text>
<g class="n" font-size="26" text-anchor="middle"><text x="1633" y="2714"><tspan font-style="italic">Kdm6a</tspan>-WT</text><text x="1855" y="2714"><tspan font-style="italic">Kdm6a</tspan>-Mutant</text></g>
</svg>
</body></html>
